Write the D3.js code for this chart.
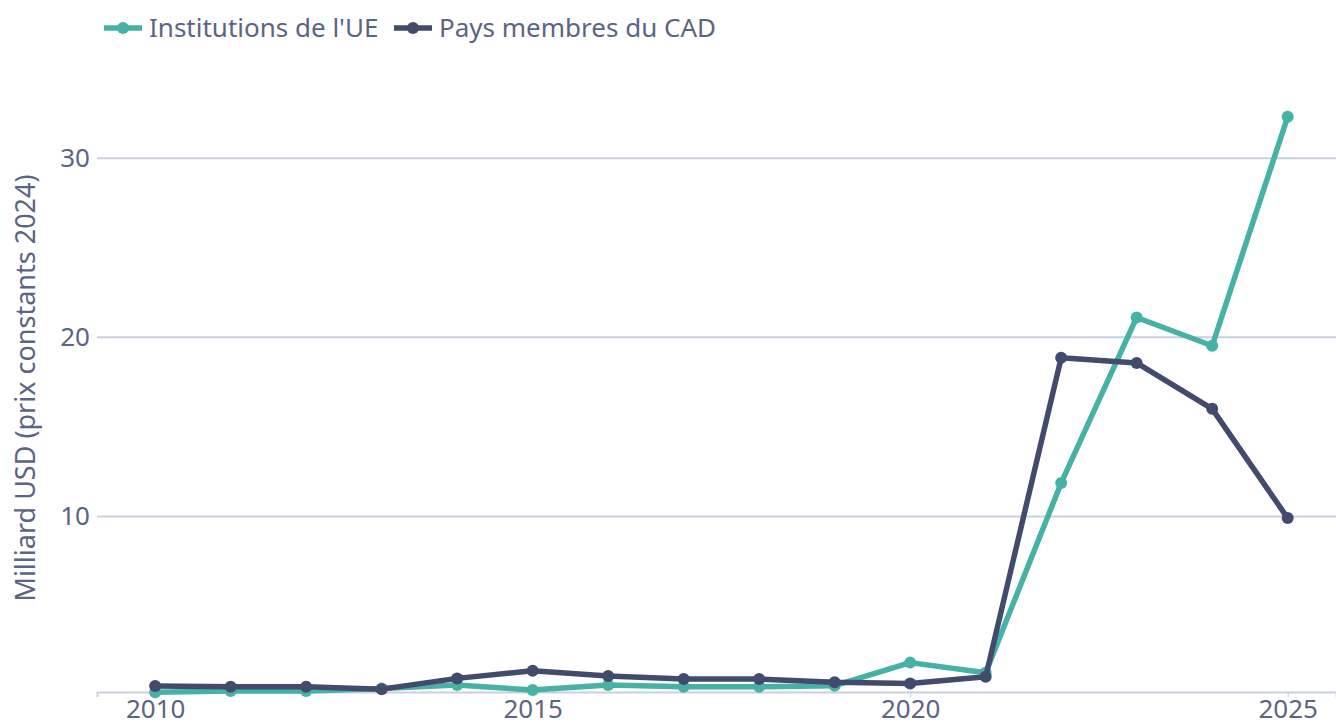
<!DOCTYPE html>
<html>
<head>
<meta charset="utf-8">
<script src="https://cdn.jsdelivr.net/npm/d3@7"></script>
<style>
  html, body { margin: 0; padding: 0; background: #fff; }
  svg { display: block; font-family: "Noto Sans", "Open Sans", sans-serif; }
</style>
</head>
<body>
<svg id="chart" width="1336" height="724"></svg>
<script>
/* data */
const years = [2010, 2011, 2012, 2013, 2014, 2015, 2016, 2017, 2018, 2019, 2020, 2021, 2022, 2023, 2024, 2025];
const euInstitutions = [0.15, 0.22, 0.22, 0.37, 0.56, 0.28, 0.56, 0.46, 0.46, 0.52, 1.81, 1.25, 11.84, 21.08, 19.5, 32.28];
const dacMembers = [0.5, 0.46, 0.46, 0.33, 0.93, 1.36, 1.06, 0.89, 0.89, 0.71, 0.65, 1.02, 18.83, 18.54, 15.98, 9.88];
const yTicks = [10, 20, 30];
const xTicks = [2010, 2015, 2020, 2025];
const seriesNames = ["Institutions de l'UE", "Pays membres du CAD"];

const TEAL = '#46B1A5';
const NAVY = '#424A6E';
const TEXT = '#5B6583';
const GRID = '#C9D0DB';
const FS = 26;

const svg = d3.select('#chart');
const plotL = 97, plotR = 1336, plotT = 95, plotB = 692;

const x = d3.scaleLinear().domain([2009.23, 2025.64]).range([plotL, plotR]);
const y = d3.scaleLinear().domain([0.17, 33.5]).range([plotB, plotT]);

// gridlines + y labels
const yAxis = svg.append('g')
  .attr('transform', `translate(${plotL},0)`)
  .call(d3.axisLeft(y).tickValues(yTicks).tickSize(-(plotR - plotL)).tickPadding(7));
yAxis.select('.domain').remove();
yAxis.selectAll('.tick line').attr('stroke', GRID).attr('stroke-width', 2);
yAxis.selectAll('.tick text')
  .attr('fill', TEXT).attr('font-size', FS).attr('font-family', '"Noto Sans", sans-serif');

// x axis
const xAxis = svg.append('g')
  .attr('transform', `translate(0,${plotB})`)
  .call(d3.axisBottom(x).tickValues(xTicks).tickFormat(d3.format('d')).tickSize(5).tickPadding(3));
xAxis.select('.domain').attr('stroke', GRID).attr('stroke-width', 2);
xAxis.selectAll('.tick line').attr('stroke', GRID).attr('stroke-width', 1);
xAxis.selectAll('.tick text')
  .attr('fill', TEXT).attr('font-size', FS).attr('font-family', '"Noto Sans", sans-serif');

// y axis title
svg.append('text')
  .attr('transform', `translate(35,388) rotate(-90)`)
  .attr('text-anchor', 'middle')
  .attr('fill', TEXT)
  .attr('font-size', 27)
  .text('Milliard USD (prix constants 2024)');

const line = d3.line().x(d => x(d[0])).y(d => y(d[1]));

function drawSeries(values, color) {
  const pts = years.map((yr, i) => [yr, values[i]]);
  const g = svg.append('g');
  g.append('path')
    .datum(pts)
    .attr('d', line)
    .attr('fill', 'none')
    .attr('stroke', color)
    .attr('stroke-width', 5.5)
    .attr('stroke-linejoin', 'round');
  g.selectAll('circle')
    .data(pts)
    .join('circle')
    .attr('cx', d => x(d[0]))
    .attr('cy', d => y(d[1]))
    .attr('r', 6)
    .attr('fill', color);
}

drawSeries(euInstitutions, TEAL);
drawSeries(dacMembers, NAVY);

// legend
const legendItems = [
  { name: seriesNames[0], color: TEAL, x: 104 },
  { name: seriesNames[1], color: NAVY, x: 394 },
];
const legend = svg.append('g');
legendItems.forEach(it => {
  const g = legend.append('g').attr('transform', `translate(${it.x},28)`);
  g.append('line').attr('x1', 0).attr('x2', 38).attr('y1', 0).attr('y2', 0)
    .attr('stroke', it.color).attr('stroke-width', 5.5);
  g.append('circle').attr('cx', 19).attr('cy', 0).attr('r', 6).attr('fill', it.color);
  g.append('text').attr('x', 45).attr('y', 0).attr('dy', '0.35em')
    .attr('fill', TEXT).attr('font-size', FS).text(it.name);
});
</script>
</body>
</html>
